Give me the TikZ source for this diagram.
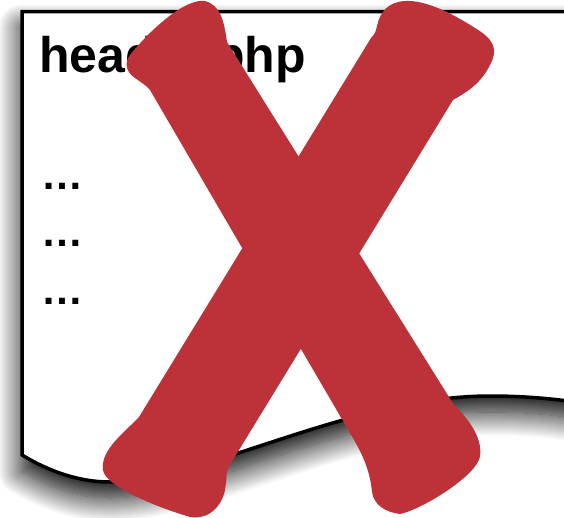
\documentclass[tikz,border=0pt]{standalone}
\usepackage{fontspec}
\setmainfont{Liberation Sans}
\usetikzlibrary{shadows.blur}
\definecolor{xred}{RGB}{189,50,57}
\tikzset{
  docpage/.style={draw=black, line width=3.5pt, fill=white, line join=miter,
    blur shadow={shadow xshift=0pt, shadow yshift=-16pt, shadow blur radius=24pt, shadow opacity=100, shadow blur steps=24}},
  crossbar/.style={fill=xred, draw=none},
  titletext/.style={inner sep=0pt, anchor=base west, font=\bfseries\fontsize{50}{60}\selectfont},
  dotstext/.style={inner sep=0pt, anchor=base west, font=\bfseries\fontsize{42}{50}\selectfont}
}
\begin{document}
\begin{tikzpicture}[x=1pt, y=-1pt]
\useasboundingbox (0,0) rectangle (564,517);
\clip (0,0) rectangle (564,517);
% document sheet with wavy bottom
\path[docpage] (22,455) -- (22,11.5) -- (590,11.5) -- (590,404)
  .. controls (550,398) and (520,396) .. (490,396)
  .. controls (350,396) and (200,482) .. (110,482)
  .. controls (80,482) and (50,472) .. (22,455) -- cycle;
% texts
\node[titletext] (title) at (39,72) {header.php};
\node[dotstext] (d1) at (41,189) {…};
\node[dotstext] (d2) at (41,246) {…};
\node[dotstext] (d3) at (41,304) {…};
% red cross, stroke from top left to bottom right
\path[crossbar] (150,90) -- (350,433)
  .. controls (362,453) and (370,470) .. (372,492)
  .. controls (374,505) and (385,512) .. (400,514)
  .. controls (420,510) and (470,480) .. (479,460)
  .. controls (484,445) and (475,425) .. (454,405)
  -- (227,42)
  .. controls (224,20) and (220,5) .. (205,1)
  .. controls (185,-2) and (150,30) .. (130,55)
  .. controls (124,63) and (126,72) .. (135,78)
  .. controls (142,83) and (147,86) .. (150,90) -- cycle;
% stroke from top right to bottom left
\path[crossbar] (371,38) -- (139,417)
  .. controls (125,432) and (100,450) .. (103,470)
  .. controls (105,485) and (150,505) .. (190,517)
  .. controls (210,520) and (222,505) .. (225,490)
  .. controls (227,478) and (226,472) .. (228,468)
  -- (453,100)
  .. controls (465,93) and (480,85) .. (490,65)
  .. controls (498,50) and (495,40) .. (475,28)
  .. controls (450,12) and (425,0) .. (405,1)
  .. controls (388,2) and (380,12) .. (377,26)
  .. controls (376,32) and (374,35) .. (371,38) -- cycle;
\end{tikzpicture}
\end{document}
